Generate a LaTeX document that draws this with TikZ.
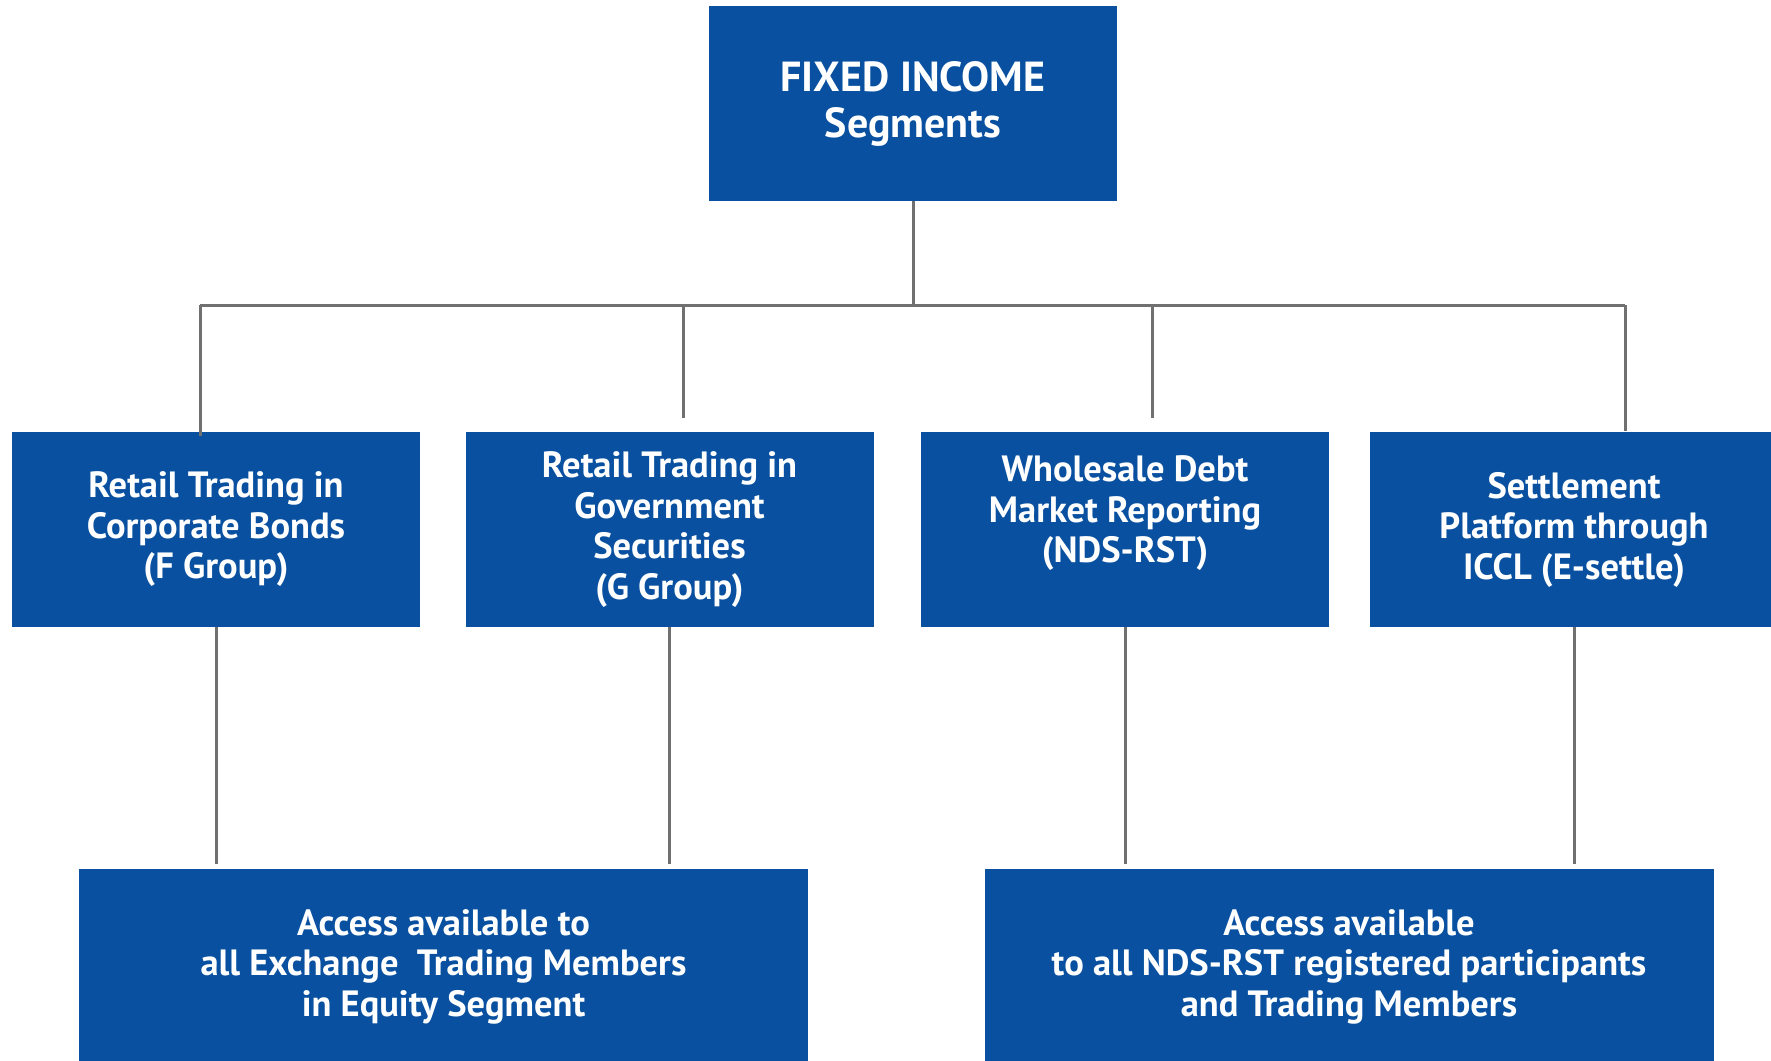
\documentclass[tikz,border=0pt]{standalone}
\usepackage{fontspec}
\setmainfont{PT Sans}
\usepackage{xcolor}
\usetikzlibrary{calc}
\definecolor{segblue}{RGB}{9,81,160}
\definecolor{linkgray}{RGB}{112,112,112}
\tikzset{
  segbox/.style={fill=segblue, text=white, inner sep=0pt, align=center,
    minimum width=408pt, minimum height=195pt,
    font=\bfseries\fontsize{36.5}{40.5}\selectfont},
  widebox/.style={segbox, minimum width=729pt},
  headbox/.style={segbox, font=\bfseries\fontsize{42}{46}\selectfont},
  link/.style={draw=linkgray, line width=3pt}
}

\begin{document}
\begin{tikzpicture}[x=1pt,y=-1pt]
  \useasboundingbox (0,0) rectangle (1771,1060);
  \node[headbox, minimum width=408pt] (fixed) at (913,103.5) {FIXED INCOME\\Segments};
  \node[segbox] (fgroup) at (216,529.5) {Retail Trading in\\Corporate Bonds\\(F Group)};
  \node[segbox] (ggroup) at (669.5,529.5) {Retail Trading in\\Government\\Securities\\(G Group)};
  \node[segbox] (ndsrst) at (1125,529.5) {Wholesale Debt\\Market Reporting\\(NDS-RST)\\~};
  \node[segbox] (esettle) at (1574,529.5) {Settlement\\Platform through\\ICCL (E-settle)};
  \node[widebox] (equity) at (443.5,966.5) {Access available to\\all Exchange~ Trading Members\\in Equity Segment};
  \node[widebox] (members) at (1349,966.5) {Access available\\to all NDS-RST registered participants\\and Trading Members};
  \coordinate (bus1) at (200,305);
  \coordinate (bus2) at (683,305);
  \coordinate (bus3) at (1152,305);
  \coordinate (bus4) at (1625,305);
  \draw[link] (fixed.south) -- (fixed.south |- bus1);
  \draw[link] (bus1) -- (bus4);
  \draw[link, shorten >=-4pt] (bus1) -- (bus1 |- fgroup.north);
  \draw[link, shorten >=14pt] (bus2) -- (bus2 |- ggroup.north);
  \draw[link, shorten >=14pt] (bus3) -- (bus3 |- ndsrst.north);
  \draw[link, shorten >=1pt] (bus4) -- (bus4 |- esettle.north);
  \draw[link, shorten >=5pt] (fgroup.south) -- (fgroup.south |- equity.north);
  \draw[link, shorten >=5pt] (ggroup.south) -- (ggroup.south |- equity.north);
  \draw[link, shorten >=5pt] (ndsrst.south) -- (ndsrst.south |- members.north);
  \draw[link, shorten >=5pt] (esettle.south) -- (esettle.south |- members.north);
\end{tikzpicture}
\end{document}
